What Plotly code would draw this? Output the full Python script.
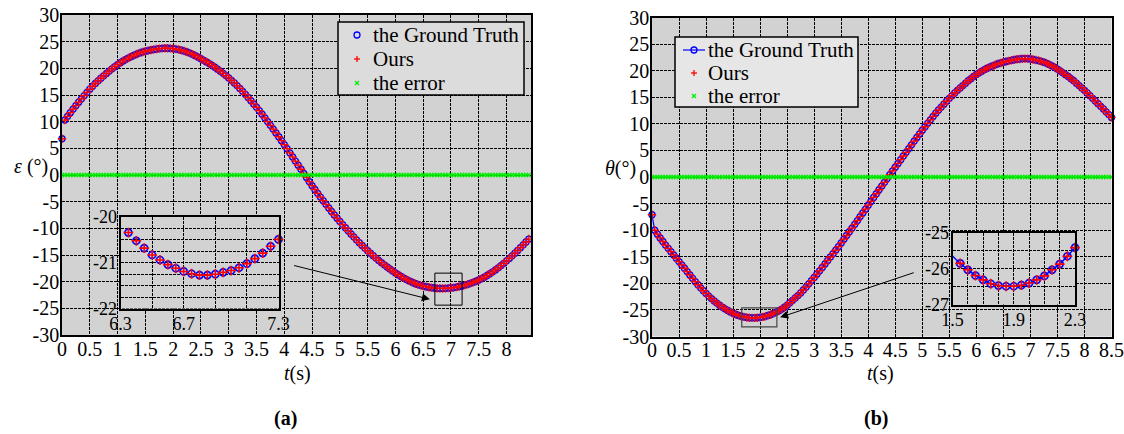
import plotly.graph_objects as go

SERIF = "Liberation Serif"
W, H = 1124, 434
DT = 0.05  # sample interval (s)

# ---------------- data ----------------
eps_gt = [
    6.8, 10.3, 11.0, 11.69, 12.36, 13.02, 13.66, 14.29, 14.9, 15.5,
    16.1, 16.64, 17.16, 17.66, 18.14, 18.6, 19.05, 19.49, 19.91, 20.32,
    20.7, 21.06, 21.39, 21.69, 21.97, 22.23, 22.47, 22.69, 22.89, 23.06,
    23.2, 23.33, 23.44, 23.54, 23.62, 23.69, 23.74, 23.77, 23.77, 23.74,
    23.69, 23.62, 23.52, 23.39, 23.24, 23.06, 22.86, 22.63, 22.38, 22.1,
    21.8, 21.51, 21.21, 20.9, 20.57, 20.22, 19.85, 19.46, 19.06, 18.64,
    18.2, 17.75, 17.27, 16.77, 16.24, 15.69, 15.12, 14.53, 13.93, 13.32,
    12.7, 12.06, 11.4, 10.72, 10.02, 9.32, 8.61, 7.89, 7.17, 6.44,
    5.7, 4.93, 4.16, 3.39, 2.62, 1.85, 1.08, 0.31, -0.46, -1.23,
    -2.0, -2.72, -3.43, -4.13, -4.82, -5.5, -6.17, -6.83, -7.48, -8.1,
    -8.7, -9.3, -9.89, -10.47, -11.04, -11.6, -12.15, -12.69, -13.21, -13.71,
    -14.2, -14.67, -15.13, -15.58, -16.02, -16.44, -16.85, -17.24, -17.62, -18.0,
    -18.37, -18.7, -19.02, -19.32, -19.6, -19.86, -20.1, -20.34, -20.52, -20.68,
    -20.83, -20.94, -21.04, -21.12, -21.19, -21.24, -21.27, -21.27, -21.25, -21.21,
    -21.17, -21.11, -21.02, -20.91, -20.79, -20.64, -20.49, -20.32, -20.13, -19.92,
    -19.69, -19.43, -19.15, -18.84, -18.51, -18.16, -17.79, -17.4, -16.99, -16.56,
    -16.11, -15.64, -15.16, -14.66, -14.15, -13.63, -13.1, -12.56, -12.01,
]
eps_ours = list(eps_gt)  # indistinguishable from ground truth at this scale

theta_gt = [
    -7.1, -10.0, -10.75, -11.45, -12.13, -12.8, -13.42, -14.04, -14.66, -15.28,
    -15.9, -16.53, -17.16, -17.79, -18.42, -19.05, -19.67, -20.27, -20.84, -21.39,
    -21.9, -22.4, -22.87, -23.31, -23.72, -24.1, -24.46, -24.79, -25.1, -25.38,
    -25.64, -25.85, -26.03, -26.19, -26.31, -26.42, -26.47, -26.49, -26.49, -26.46,
    -26.4, -26.31, -26.2, -26.03, -25.87, -25.65, -25.41, -25.15, -24.85, -24.5,
    -24.1, -23.65, -23.2, -22.75, -22.3, -21.8, -21.25, -20.7, -20.1, -19.5,
    -18.9, -18.28, -17.65, -17.0, -16.35, -15.7, -15.05, -14.4, -13.75, -13.1,
    -12.4, -11.7, -11.0, -10.3, -9.6, -8.9, -8.2, -7.45, -6.75, -6.05,
    -5.3, -4.6, -3.85, -3.15, -2.4, -1.7, -1.0, -0.3, 0.45, 1.15,
    1.85, 2.55, 3.25, 3.95, 4.65, 5.35, 6.05, 6.75, 7.45, 8.1,
    8.8, 9.45, 10.1, 10.75, 11.4, 12.0, 12.6, 13.15, 13.7, 14.25,
    14.8, 15.3, 15.8, 16.3, 16.75, 17.2, 17.65, 18.1, 18.5, 18.9,
    19.3, 19.6, 19.9, 20.2, 20.45, 20.7, 20.9, 21.1, 21.3, 21.45,
    21.6, 21.72, 21.85, 21.95, 22.05, 22.15, 22.2, 22.25, 22.27, 22.25,
    22.2, 22.1, 22.0, 21.9, 21.75, 21.6, 21.38, 21.15, 20.9, 20.6,
    20.3, 19.95, 19.6, 19.25, 18.9, 18.5, 18.1, 17.65, 17.2, 16.75,
    16.3, 15.8, 15.3, 14.8, 14.3, 13.8, 13.3, 12.8, 12.25, 11.75, 11.2,
]
theta_ours = list(theta_gt)

t_left = [round(i * DT, 2) for i in range(len(eps_gt))]
t_right = [round(i * DT, 2) for i in range(len(theta_gt))]
eps_err = [round(o - g, 3) for o, g in zip(eps_ours, eps_gt)]
theta_err = [round(o - g, 3) for o, g in zip(theta_ours, theta_gt)]

series_names = ["the Ground Truth", "Ours", "the error"]

x_ticks_left = [i * 0.5 for i in range(17)]
x_ticks_right = [i * 0.5 for i in range(18)]
y_ticks = list(range(-30, 31, 5))

inset_a_x = [6.3, 6.5, 6.7, 6.9, 7.1, 7.3]
inset_a_xtext = ["6.3", "", "6.7", "", "", "7.3"]
inset_a_y = [-22, -21.75, -21.5, -21.25, -21, -20.75, -20.5, -20.25, -20]
inset_a_ytext = ["-22", "", "", "", "-21", "", "", "", "-20"]
inset_b_x = [1.5, 1.6, 1.7, 1.8, 1.9, 2.0, 2.1, 2.2, 2.3]
inset_b_xtext = ["1.5", "", "", "", "1.9", "", "", "", "2.3"]
inset_b_y = [-27, -26.5, -26, -25.5, -25]
inset_b_ytext = ["-27", "", "-26", "", "-25"]

# zoom boxes / arrows (data coordinates)
box_a = dict(x0=6.71, x1=7.20, y0=-24.4, y1=-18.4)
arrow_a = dict(tail=(4.15, -16.9), head=(6.62, -23.3))
box_b = dict(x0=1.66, x1=2.31, y0=-28.2, y1=-24.6)
arrow_b = dict(tail=(4.87, -17.9), head=(2.37, -26.4))

# ---------------- styles ----------------
BLUE, RED, GREEN = "#0000ff", "#ff0000", "#00ee00"
gt_marker = dict(symbol="circle-open", size=6, color=BLUE, line=dict(width=1.3))
ours_marker = dict(symbol="cross-thin", size=6, color=RED, line=dict(width=1.3, color=RED))
err_marker = dict(symbol="x-thin", size=4, color=GREEN, line=dict(width=1.3, color=GREEN))
gt_marker_in = dict(symbol="circle-open", size=7, color=BLUE, line=dict(width=1.7))
ours_marker_in = dict(symbol="cross-thin", size=7, color=RED, line=dict(width=1.6, color=RED))


def px_dom(a, b):
    return [a / W, b / W]


def py_dom(top, bottom):
    return [1 - bottom / H, 1 - top / H]


fig = go.Figure()

# ---- left main (a)
fig.add_trace(go.Scatter(x=t_left, y=eps_gt, mode="markers", marker=gt_marker,
                         name=series_names[0], xaxis="x", yaxis="y", cliponaxis=False))
fig.add_trace(go.Scatter(x=t_left, y=eps_ours, mode="markers", marker=ours_marker,
                         name=series_names[1], xaxis="x", yaxis="y", cliponaxis=False))
fig.add_trace(go.Scatter(x=t_left, y=eps_err, mode="markers", marker=err_marker,
                         name=series_names[2], xaxis="x", yaxis="y", cliponaxis=False))

# ---- right main (b)
fig.add_trace(go.Scatter(x=t_right, y=theta_gt, mode="lines+markers", marker=gt_marker,
                         line=dict(color=BLUE, width=1.2), name=series_names[0],
                         xaxis="x2", yaxis="y2", cliponaxis=False))
fig.add_trace(go.Scatter(x=t_right, y=theta_ours, mode="markers", marker=ours_marker,
                         name=series_names[1], xaxis="x2", yaxis="y2", cliponaxis=False))
fig.add_trace(go.Scatter(x=t_right, y=theta_err, mode="markers", marker=err_marker,
                         name=series_names[2], xaxis="x2", yaxis="y2", cliponaxis=False))

# ---- left inset
ia = [i for i, t in enumerate(t_left) if 6.34 <= t <= 7.31]
fig.add_trace(go.Scatter(x=[t_left[i] for i in ia], y=[eps_gt[i] for i in ia],
                         mode="markers", marker=gt_marker_in,
                         xaxis="x3", yaxis="y3", cliponaxis=False))
fig.add_trace(go.Scatter(x=[t_left[i] for i in ia], y=[eps_ours[i] for i in ia],
                         mode="markers", marker=ours_marker_in,
                         xaxis="x3", yaxis="y3", cliponaxis=False))

# ---- right inset
ib_line = [i for i, t in enumerate(t_right) if 1.49 <= t <= 2.31]
ib = [i for i, t in enumerate(t_right) if 1.54 <= t <= 2.31]
fig.add_trace(go.Scatter(x=[t_right[i] for i in ib_line], y=[theta_gt[i] for i in ib_line],
                         mode="lines", line=dict(color=BLUE, width=1.4),
                         xaxis="x4", yaxis="y4"))
fig.add_trace(go.Scatter(x=[t_right[i] for i in ib], y=[theta_gt[i] for i in ib],
                         mode="markers", marker=gt_marker_in,
                         xaxis="x4", yaxis="y4", cliponaxis=False))
fig.add_trace(go.Scatter(x=[t_right[i] for i in ib], y=[theta_ours[i] for i in ib],
                         mode="markers", marker=ours_marker_in,
                         xaxis="x4", yaxis="y4", cliponaxis=False))

GRID = dict(showgrid=True, gridcolor="#000000", gridwidth=1, griddash="3px,1px",
            zeroline=False, showline=True, linecolor="black", linewidth=1.5,
            mirror=True, ticks="", automargin=False, fixedrange=True)


def main_x(domain, anchor, rng, vals):
    d = dict(GRID)
    d.update(domain=domain, anchor=anchor, range=rng, tickmode="array",
             tickvals=vals, ticktext=[f"{v:g}" for v in vals], tickangle=0,
             ticklabelstandoff=-5,
             tickfont=dict(family=SERIF, size=20, color="black"))
    return d


def main_y(domain, anchor):
    d = dict(GRID)
    d.update(domain=domain, anchor=anchor, range=[-30, 30], tickmode="array",
             tickvals=y_ticks, ticktext=[str(v) for v in y_ticks],
             ticklabelstandoff=-3,
             tickfont=dict(family=SERIF, size=20, color="black"))
    return d


def inset_axis(domain, anchor, rng, vals, texts):
    d = dict(GRID)
    d.update(domain=domain, anchor=anchor, range=rng, tickmode="array",
             tickvals=vals, ticktext=texts, tickangle=0, linewidth=2,
             ticklabelstandoff=-2,
             tickfont=dict(family=SERIF, size=18, color="black"))
    return d


fig.update_layout(
    width=W, height=H, margin=dict(l=0, r=0, t=0, b=0),
    paper_bgcolor="white", plot_bgcolor="#d2d2d2",
    font=dict(family=SERIF, color="black"),
    showlegend=False,
    xaxis=main_x(px_dom(62, 531), "y", [0, 8.44], x_ticks_left),
    yaxis=main_y(py_dom(15, 335), "x"),
    xaxis2=main_x(px_dom(652, 1111.5), "y2", [0, 8.5], x_ticks_right),
    yaxis2=main_y(py_dom(17.5, 336.5), "x2"),
    xaxis3=inset_axis(px_dom(120.5, 278.5), "y3", [6.3, 7.3], inset_a_x, inset_a_xtext),
    yaxis3=inset_axis(py_dom(217, 308.5), "x3", [-22, -20], inset_a_y, inset_a_ytext),
    xaxis4=inset_axis(px_dom(952.5, 1075), "y4", [1.5, 2.3], inset_b_x, inset_b_xtext),
    yaxis4=inset_axis(py_dom(233, 304.5), "x4", [-27, -25], inset_b_y, inset_b_ytext),
)

# lighter inset backgrounds
for ax in ("x3", "x4"):
    yax = "y" + ax[1:]
    fig.add_shape(type="rect", xref=f"{ax} domain", yref=f"{yax} domain",
                  x0=0, x1=1, y0=0, y1=1, fillcolor="#dcdcdc",
                  line=dict(width=0), layer="below")

# zoom boxes
fig.add_shape(type="rect", xref="x", yref="y", line=dict(color="black", width=1), **box_a)
fig.add_shape(type="rect", xref="x2", yref="y2", line=dict(color="#444444", width=1.2), **box_b)

# arrows
for arr, xr, yr in ((arrow_a, "x", "y"), (arrow_b, "x2", "y2")):
    fig.add_annotation(x=arr["head"][0], y=arr["head"][1], ax=arr["tail"][0], ay=arr["tail"][1],
                       xref=xr, yref=yr, axref=xr, ayref=yr, text="", showarrow=True,
                       arrowhead=2, arrowsize=1.6, arrowwidth=1, arrowcolor="black")


# ---------------- legends (drawn as decoration, pixel placed) ----------------
def pshape(kind, cx, cy, x0, x1, y0, y1, **kw):
    fig.add_shape(type=kind, xref="paper", yref="paper", xsizemode="pixel",
                  ysizemode="pixel", xanchor=cx / W, yanchor=1 - cy / H,
                  x0=x0, x1=x1, y0=y0, y1=y1, **kw)


def legend_box(left, top, right, bottom, fill):
    fig.add_shape(type="rect", xref="paper", yref="paper", x0=left / W, x1=right / W,
                  y0=1 - bottom / H, y1=1 - top / H, fillcolor=fill,
                  line=dict(color="black", width=1.5), layer="above")


def legend_entries(sym_x, text_x, rows, gt_line):
    for name, cy, kind in zip(series_names, rows, ("gt", "ours", "err")):
        if kind == "gt":
            if gt_line:
                pshape("line", sym_x, cy, -11, 11, 0, 0, line=dict(color=BLUE, width=1.2))
            pshape("circle", sym_x, cy, -3, 3, -3, 3, line=dict(color=BLUE, width=1.3),
                   fillcolor="rgba(0,0,0,0)")
        elif kind == "ours":
            pshape("line", sym_x, cy, -3, 3, 0, 0, line=dict(color=RED, width=1.3))
            pshape("line", sym_x, cy, 0, 0, -3, 3, line=dict(color=RED, width=1.3))
        else:
            pshape("line", sym_x, cy, -2, 2, -2, 2, line=dict(color=GREEN, width=1.2))
            pshape("line", sym_x, cy, -2, 2, 2, -2, line=dict(color=GREEN, width=1.2))
        fig.add_annotation(text=name, x=text_x / W, y=1 - cy / H, xref="paper", yref="paper",
                           showarrow=False, xanchor="left", yanchor="middle",
                           font=dict(family=SERIF, size=21, color="black"))


legend_box(338, 22, 524, 95, "#dcdcdc")
legend_entries(357, 371, (35, 59, 83), gt_line=False)
legend_box(675, 37, 858, 107, "#e6e6e6")
legend_entries(694, 706, (50, 73, 96), gt_line=True)


# axis titles and panel labels
def label(text, x, y, size=20, **kw):
    fig.add_annotation(text=text, x=x / W, y=1 - y / H, xref="paper", yref="paper",
                       showarrow=False, xanchor="center", yanchor="middle",
                       font=dict(family=SERIF, size=size, color="black"), **kw)


label("<i>ε</i> (°)", 31, 167)
label("<i>θ</i>(°)", 620, 168)
label("<i>t</i>(s)", 297, 373)
label("<i>t</i>(s)", 880, 373)
label("<b>(a)</b>", 285, 418)
label("<b>(b)</b>", 876, 418)

fig.write_html("out.html", config={"displayModeBar": False},
               post_script="document.body.style.margin='0px';")
